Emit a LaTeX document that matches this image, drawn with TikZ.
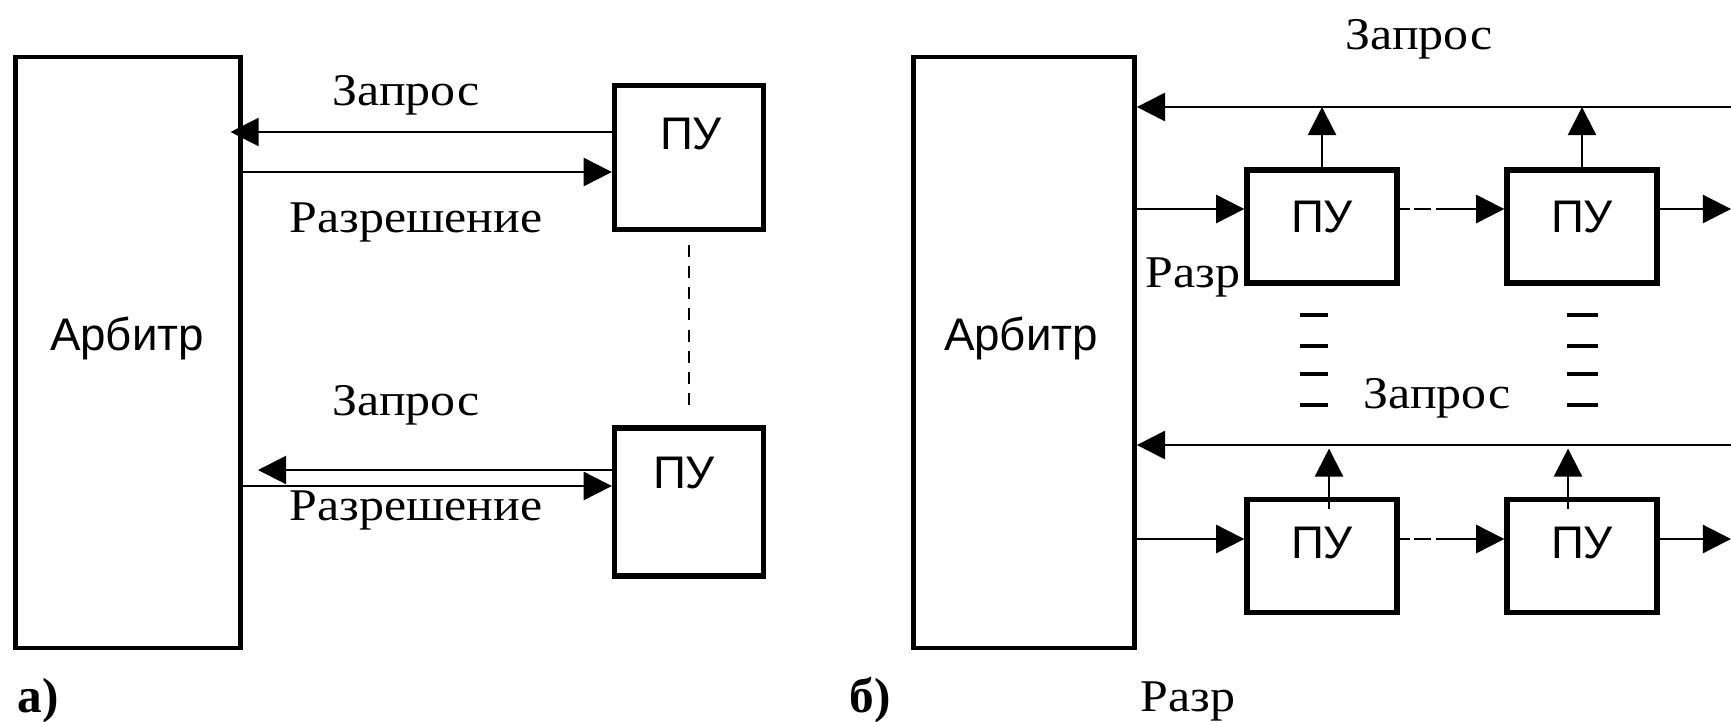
\documentclass[tikz,border=0pt]{standalone}
\usepackage{fontspec}
\setmainfont{Liberation Serif}
\newfontfamily\lblfont[FakeStretch=1.1]{Liberation Serif}
\newfontfamily\arialfont{Liberation Sans}
\usetikzlibrary{arrows.meta,calc}

\tikzset{
  arbiter/.style={draw,line width=1.3pt,minimum height=5.91cm,inner sep=0pt},
  pu/.style={draw,line width=1.5pt,minimum width=1.5cm,minimum height=1.13cm,inner sep=0pt},
  link/.style={line width=0.6pt,-{Triangle[length=8pt,width=8pt]}},
  gapline/.style={line width=0.6pt,dash pattern=on 3.4pt off 2.6pt},
  chainlink/.style={line width=0.6pt,dash pattern=on 2.8pt off 1.4pt on 4.8pt off 1.4pt},
  gapmark/.style={line width=0.9pt},
  lbl/.style={font=\lblfont\fontsize{12.9pt}{15pt}\selectfont,inner sep=0pt,anchor=base},
  sans/.style={font=\arialfont\fontsize{13pt}{15pt}\selectfont,inner sep=0pt},
  caption/.style={font=\fontsize{14pt}{16pt}\selectfont\bfseries,inner sep=0pt,anchor=base west}
}

\begin{document}
\begin{tikzpicture}[x=0.01cm,y=-0.01cm]
  \useasboundingbox (0,0) rectangle (1731,721);
  % a) separate request/grant lines
  \node[arbiter,minimum width=2.25cm] (arbA) at (128,352.5) {};
  \node[sans,anchor=base] (arbAtxt) at (127,350) {Арбитр};
  \node[pu,minimum width=1.49cm,minimum height=1.44cm] (puA1) at (689,157.5) {};
  \node[sans] (puA1txt) at (691,133.5) {ПУ};
  \node[pu,minimum width=1.49cm,minimum height=1.48cm] (puA2) at (689,502) {};
  \node[sans] (puA2txt) at (684,473) {ПУ};
  \coordinate (reqA2) at (258,470);
  \draw[link,shorten >=-3.5pt] (puA1.west |- 0,132) -- (arbA.east |- 0,132);
  \draw[link] (arbA.east |- 0,172) -- (puA1.west |- 0,172);
  \draw[link] (puA2.west |- reqA2) -- (reqA2);
  \draw[link] (arbA.east |- 0,486) -- (puA2.west |- 0,486);
  \draw[gapline,shorten <=3.7pt,shorten >=4.5pt] (puA1.south) -- (puA2.north);
  \node[lbl] (reqA1lbl) at (406,105) {Запрос};
  \node[lbl] (grantA1lbl) at (416,232) {Разрешение};
  \node[lbl] (reqA2lbl) at (406,415) {Запрос};
  \node[lbl] (grantA2lbl) at (416,520) {Разрешение};
  \node[caption] (capA) at (17,712) {а)};

  % b) daisy chain
  \node[arbiter,minimum width=2.21cm] (arbB) at (1024,352.5) {};
  \node[sans,anchor=base] (arbBtxt) at (1021,350) {Арбитр};
  \foreach \r/\y/\dy in {1/226.5/10,2/556/13} {
    \node[pu] (p\r1) at (1322,\y) {};
    \node[pu] (p\r2) at (1582,\y) {};
    \node[sans] (p\r1txt) at ($(p\r1)+(0,-\dy)$) {ПУ};
    \node[sans] (p\r2txt) at ($(p\r2)+(0,-\dy)$) {ПУ};
  }
  % request buses
  \coordinate (busQ1) at (1731,107);
  \coordinate (busQ2) at (1731,445);
  \draw[link] (busQ1) -- (arbB.east |- busQ1);
  \draw[link] (busQ2) -- (arbB.east |- busQ2);
  \draw[link] (p11.north) -- (p11.north |- busQ1);
  \draw[link] (p12.north) -- (p12.north |- busQ1);
  \coordinate (up21) at ($(p21.north)+(7,12)$);
  \coordinate (up22) at ($(p22.north)+(-14,12)$);
  \draw[link,shorten >=1pt] (up21) -- (up21 |- busQ2);
  \draw[link,shorten >=1pt] (up22) -- (up22 |- busQ2);
  % grant chains
  \foreach \r/\ly in {1/209,2/539} {
    \coordinate (out\r) at (1731,\ly);
    \draw[link] (arbB.east |- out\r) -- (p\r1.west |- out\r);
    \draw[chainlink] (p\r1.east |- out\r) -- ++(37,0) coordinate (mid\r);
    \draw[link] (mid\r) -- (p\r2.west |- mid\r);
    \draw[link] (p\r2.east |- out\r) -- (out\r);
  }
  % vertical ellipsis marks
  \foreach \mx/\mw in {1314/28,1582/31}
    \foreach \my in {315,346,374,405}
      \draw[gapmark] (\mx-\mw/2,\my) -- ++(\mw,0);
  \node[lbl] (reqB1lbl) at (1419,49) {Запрос};
  \node[lbl] (reqB2lbl) at (1437,408) {Запрос};
  \node[lbl,anchor=base east] (grantB1lbl) at (1241,287) {Разр};
  \node[lbl,anchor=base west] (grantB2lbl) at (1140,711) {Разр};
  \node[caption] (capB) at (849,712) {б)};
\end{tikzpicture}
\end{document}
